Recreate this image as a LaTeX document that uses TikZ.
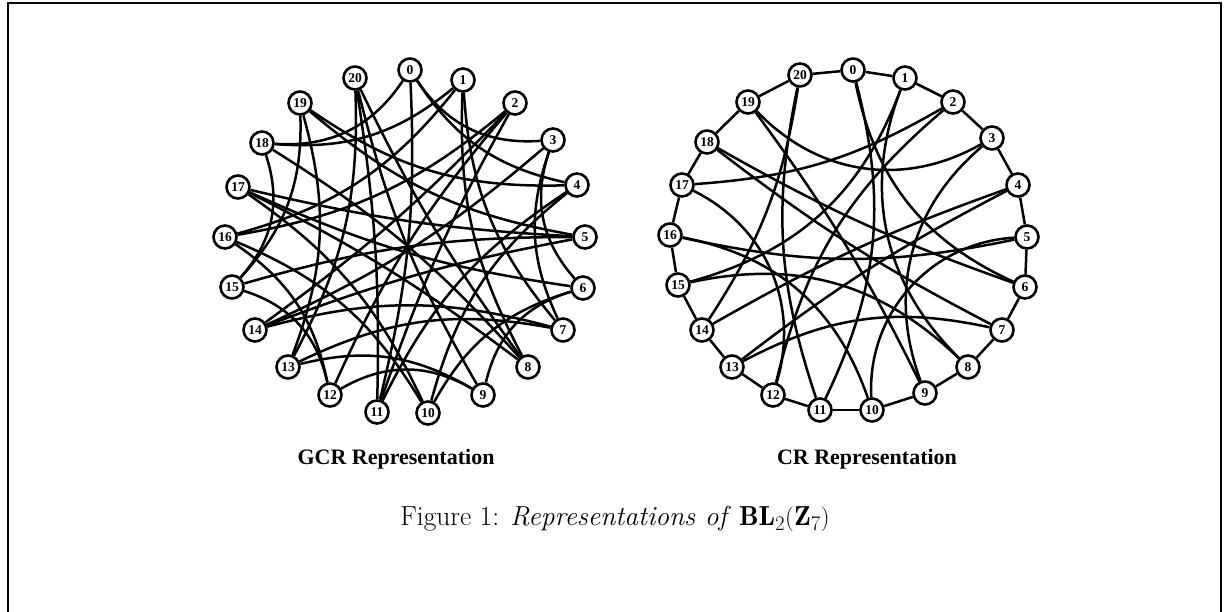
\documentclass[tikz,border=0pt]{standalone}
\usepackage{fontspec}
\newfontfamily\timesb{Liberation Serif}
\usetikzlibrary{backgrounds}
\begin{document}
\begin{tikzpicture}[x=1pt,y=-1pt,
  vtx/.style={circle, draw, line width=2.6pt, fill=white, inner sep=0pt, minimum size=23pt,
              font=\timesb\bfseries\fontsize{13.5}{13.5}\selectfont},
  edge/.style={line width=2.5pt},
  lab/.style={font=\timesb\bfseries\fontsize{22}{24}\selectfont},
  frame/.style={line width=1.5pt}]
\useasboundingbox (0,0) rectangle (1227,611);
\draw[frame] (8,620) -- (8,3) -- (1221,3) -- (1221,620);

% ---------- GCR nodes ----------
\foreach \n/\x/\y in {0/410/70,1/463/80,2/515/103,3/553/140,4/577/185,5/585/237,6/583/288,
  7/563/330,8/528/367,9/483/395,10/428/413,11/377/412,12/330/395,13/288/367,14/255/330,
  15/232/287,16/225/237,17/238/187,18/262/143,19/300/103,20/355/78}
  \node[vtx] (g\n) at (\x,\y) {\n};
% ---------- CR nodes ----------
\foreach \n/\x/\y in {0/853/70,1/905/78,2/953/102,3/992/138,4/1018/185,5/1027/237,6/1025/287,
  7/1002/330,8/968/367,9/925/393,10/872/410,11/820/410,12/773/395,13/732/367,14/702/330,
  15/678/285,16/670/235,17/682/185,18/707/142,19/748/102,20/800/75}
  \node[vtx] (c\n) at (\x,\y) {\n};

\begin{scope}[on background layer]
% GCR edges (a -> b clockwise, bend toward centre)
\foreach \a/\b/\t in {0/3/30,3/6/30,6/9/30,9/12/30,12/15/30,15/18/30,18/0/30,
  1/7/18,7/13/18,13/19/18,19/4/18,4/10/18,10/16/18,16/1/18,
  14/2/5,5/14/5,17/5/5,8/17/5,20/8/5,11/20/5,2/11/5,
  0/4/22,3/7/22,6/10/22,9/13/22,12/16/22,15/19/22,18/1/22,
  1/8/15,4/11/15,7/14/15,10/17/15,13/20/15,16/2/15,19/5/15,
  2/12/8,5/15/8,8/18/8,11/0/8,14/3/8,17/6/8,20/9/8}
  \draw[edge] (g\a) to[bend right=\t] (g\b);
% CR ring
\foreach \a/\b in {0/1,1/2,2/3,3/4,4/5,5/6,6/7,7/8,8/9,9/10,10/11,11/12,12/13,13/14,
  14/15,15/16,16/17,17/18,18/19,19/20,20/0}
  \draw[edge] (c\a) -- (c\b);
% CR chords
\foreach \a/\b/\t in {0/6/27,7/13/20,14/20/12,11/0/20,1/8/33,2/12/18,3/9/35,4/13/5,
  5/10/45,18/7/5,8/15/28,9/19/5,10/16/30,11/20/-15,12/17/40,4/14/5,15/1/27,16/5/12,
  17/2/13,18/6/5,19/3/38}
  \draw[edge] (c\a) to[bend right=\t] (c\b);
\end{scope}

\node[lab] (gl) at (396,459) {GCR Representation};
\node[lab] (cl) at (867,459) {CR Representation};
\node[font=\fontsize{27.5}{30}\selectfont] (cap) at (615,519)
  {Figure 1: \textit{Representations of} $\mathbf{BL}_2(\mathbf{Z}_7)$};
\end{tikzpicture}
\end{document}
